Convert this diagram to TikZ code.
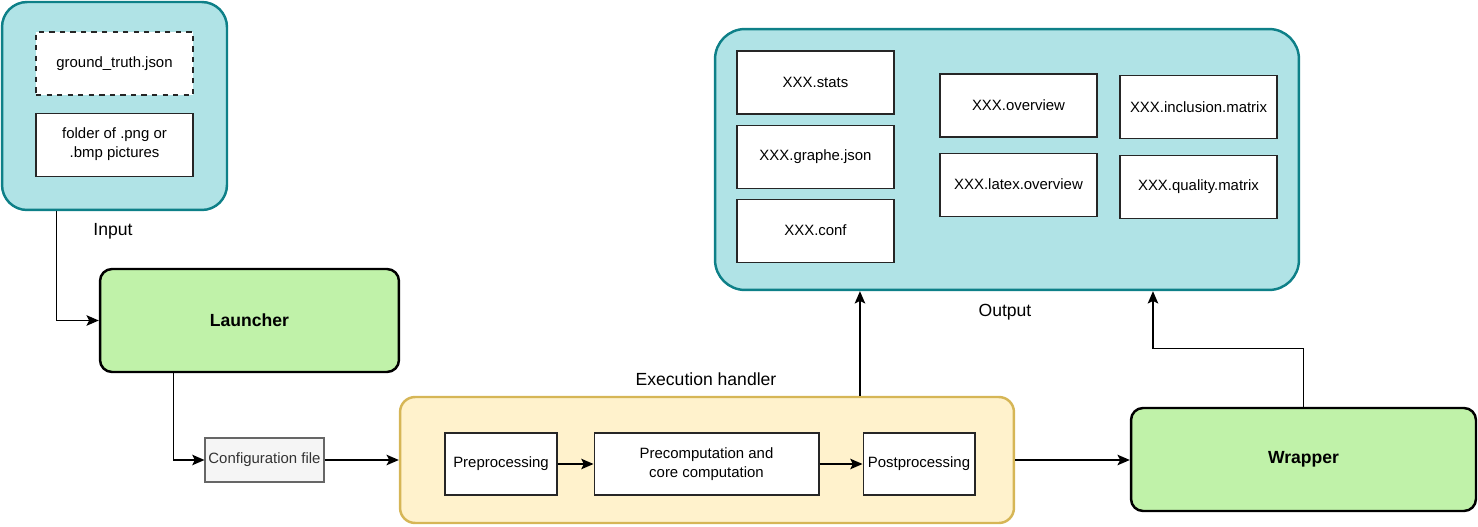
\documentclass[tikz,border=0pt]{standalone}
\usepackage{fontspec}
\setmainfont{Liberation Sans}
\usetikzlibrary{arrows.meta, positioning}
\definecolor{myteal}{RGB}{14,128,136}
\definecolor{hdrteal}{RGB}{176,227,230}
\definecolor{hdrgreen}{RGB}{192,242,169}
\definecolor{myyellow}{RGB}{214,182,86}
\definecolor{hdryellow}{RGB}{255,242,204}
\definecolor{mygray}{RGB}{245,245,245}
\definecolor{mydark}{RGB}{102,102,102}
\definecolor{mytext}{RGB}{51,51,51}
\tikzset{
  container/.style={rectangle, draw=myteal, fill=hdrteal, line width=1.4pt},
  filebox/.style={rectangle, draw=black!85, fill=white, line width=0.6pt,
    minimum width=3.14cm, minimum height=1.26cm, align=center, inner sep=1pt,
    font=\fontsize{8.5}{10.8}\selectfont},
  stepbox/.style={filebox, minimum width=2.24cm, minimum height=1.24cm},
  greenblock/.style={rectangle, draw=black, fill=hdrgreen, line width=1.4pt,
    rounded corners=0.24cm, minimum height=2.06cm,
    font=\fontsize{10}{12}\selectfont\bfseries},
  arrow/.style={-{Stealth[length=7pt, width=6pt, inset=1.5pt]}, line width=0.75pt, color=black},
  lbl/.style={font=\fontsize{10}{12}\selectfont}
}
\begin{document}
\begin{tikzpicture}[x=0.02cm, y=-0.02cm]
  \useasboundingbox (0,0) rectangle (1478,527);

  % input side
  \node [container, rounded corners=0.5cm, minimum width=4.5cm, minimum height=4.16cm] (input) at (114.5,106) {};
  \node [filebox, dashed] (truth) at (114.5,63.5) {ground\_truth.json};
  \node [filebox, below=0.34cm of truth] (pictures) {folder of .png or\\ .bmp pictures};
  \node [lbl] (inputlbl) at (113,231) {Input};

  \node [greenblock, minimum width=5.98cm] (launcher) at (249.5,320.5) {Launcher};
  \node [rectangle, draw=mydark, fill=mygray, text=mytext, line width=0.6pt,
    minimum width=2.38cm, minimum height=0.88cm, inner sep=1pt,
    font=\fontsize{8.5}{10.8}\selectfont] (config) at (264.5,460) {Configuration file};

  % execution handler
  \node [rectangle, draw=myyellow, fill=hdryellow, line width=1.4pt, rounded corners=0.3cm,
    minimum width=12.28cm, minimum height=2.52cm] (exec) at (707,460) {};
  \node [lbl] (execlbl) at (706,379) {Execution handler};
  \node [stepbox] (pre) at (501,464) {Preprocessing};
  \node [stepbox, minimum width=4.5cm, right=0.72cm of pre] (core) {Precomputation and\\core computation};
  \node [stepbox, right=0.86cm of core] (post) {Postprocessing};

  \node [greenblock, minimum width=6.9cm] (wrapper) at (1303.5,459.5) {Wrapper};

  % output side
  \node [container, rounded corners=0.6cm, minimum width=11.68cm, minimum height=5.22cm] (output) at (1007,159.5) {};
  \node [lbl] (outputlbl) at (1005,312) {Output};
  \node [filebox] (stats) at (815.5,82.5) {XXX.stats};
  \node [filebox, below=0.2cm of stats] (graphe) {XXX.graphe.json};
  \node [filebox, below=0.2cm of graphe] (conf) {XXX.conf};
  \node [filebox] (overview) at (1018.5,105.5) {XXX.overview};
  \node [filebox, below=0.3cm of overview] (latex) {XXX.latex.overview};
  \node [filebox] (inclusion) at (1198.5,107) {XXX.inclusion.matrix};
  \node [filebox, below=0.32cm of inclusion] (quality) {XXX.quality.matrix};

  \coordinate (execout) at ([xshift=3.06cm]exec.north);
  \coordinate (wrapin) at ([xshift=2.92cm]output.south);

  \draw [arrow] ([xshift=1.12cm]input.south west) |- (launcher.west);
  \draw [arrow] ([xshift=1.5cm]launcher.south west) |- (config.west);
  \draw [arrow] (config.east) -- (config.east -| exec.west);
  \draw [arrow] (pre) -- (core);
  \draw [arrow] (core) -- (post);
  \draw [arrow] (exec.east) -- (exec.east -| wrapper.west);
  \draw [arrow] (execout) -- (execout |- output.south);
  \draw [arrow] (wrapper.north) -- ++(0,1.16cm) -| (wrapin);
\end{tikzpicture}
\end{document}
